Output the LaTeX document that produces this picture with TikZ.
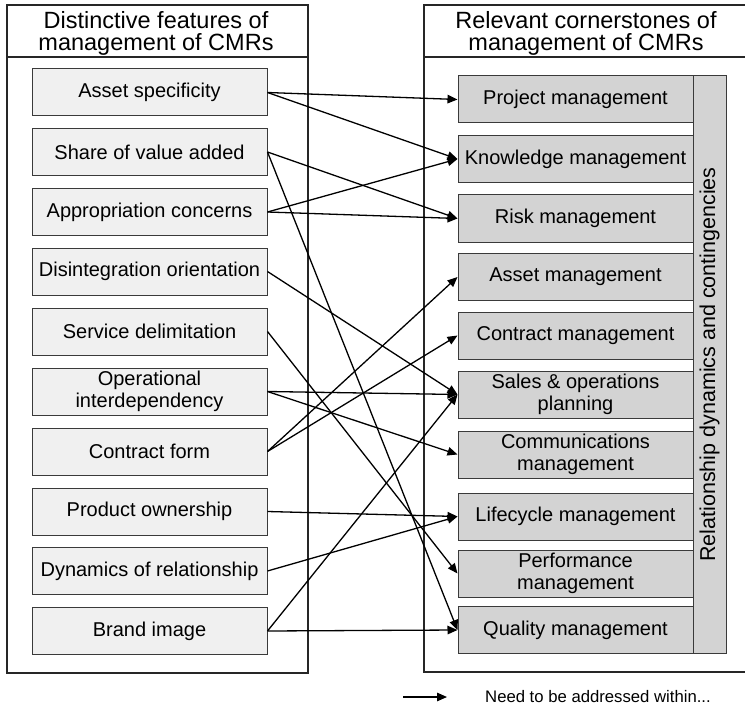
\documentclass[tikz,border=0pt]{standalone}
\usepackage{fontspec}
\setmainfont{Liberation Sans}
\usetikzlibrary{arrows.meta}
\definecolor{lfill}{HTML}{F0F0F0}
\definecolor{rfill}{HTML}{D3D3D3}
\definecolor{bord}{HTML}{3A3A3A}
\tikzset{
  feat/.style={draw=bord, line width=1pt, fill=lfill, minimum width=235pt, minimum height=47pt, inner sep=0pt, align=center, font=\fontsize{20}{22}\selectfont},
  corner/.style={draw=bord, line width=1pt, fill=rfill, minimum width=235pt, minimum height=47pt, inner sep=0pt, align=center, font=\fontsize{20}{22}\selectfont},
  frame/.style={draw=black!85, line width=1.1pt},
  hdr/.style={align=center, inner sep=0pt, font=\fontsize{23.5}{22.5}\selectfont},
  conn/.style={draw=black, line width=1.3pt, -{Triangle[length=10pt,width=8.5pt]}}
}
\begin{document}
\begin{tikzpicture}[x=1pt,y=-1pt]
\useasboundingbox (0,0) rectangle (745,706);
% frames
\draw[frame] (7,5) rectangle (308,673);
\draw[frame] (7,57) -- (308,57);
\draw[frame] (424,5) rectangle (750,672);
\draw[frame] (424,57) -- (750,57);
\node[hdr] (lh) at (156,33.5) {Distinctive features of\\management of CMRs};
\node[hdr] (rh) at (586,33.5) {Relevant cornerstones of\\management of CMRs};
% left boxes
\node[feat] (asp) at (149.5,92.5) {Asset specificity};
\node[feat] (sva) at (149.5,152) {Share of value added};
\node[feat] (apc) at (149.5,212) {Appropriation concerns};
\node[feat] (dio) at (149.5,271.5) {Disintegration orientation};
\node[feat] (sdl) at (149.5,331.5) {Service delimitation};
\node[feat] (opi) at (149.5,391.5) {Operational\\interdependency};
\node[feat] (cfm) at (149.5,451.5) {Contract form};
\node[feat] (pow) at (149.5,511.5) {Product ownership};
\node[feat] (dyr) at (149.5,571) {Dynamics of relationship};
\node[feat] (bri) at (149.5,631) {Brand image};
% right boxes
\node[corner] (proj) at (575.5,99.5) {Project management};
\node[corner] (know) at (575.5,159) {Knowledge management};
\node[corner] (risk) at (575.5,218.5) {Risk management};
\node[corner] (astm) at (575.5,277) {Asset management};
\node[corner] (cntm) at (575.5,335.5) {Contract management};
\node[corner] (sop) at (575.5,394.5) {Sales \& operations\\planning};
\node[corner] (comm) at (575.5,454.5) {Communications\\management};
\node[corner] (life) at (575.5,516.5) {Lifecycle management};
\node[corner] (perf) at (575.5,573.5) {Performance\\management};
\node[corner] (qual) at (575.5,630) {Quality management};
% vertical bar
\node[draw=bord, line width=1pt, fill=rfill, minimum width=33pt, minimum height=577pt, inner sep=0pt] (bar) at (709.5,364.5) {};
\node[rotate=90, inner sep=0pt, font=\fontsize{21.5}{21.5}\selectfont] (bart) at (bar.center) {Relationship dynamics and contingencies};
% connectors
\draw[conn] (asp.east) -- (proj.west);
\draw[conn] (asp.east) -- (know.west);
\draw[conn] (sva.east) -- (risk.west);
\draw[conn] (sva.east) -- (qual.west);
\draw[conn] (apc.east) -- (know.west);
\draw[conn] (apc.east) -- (risk.west);
\draw[conn] (dio.east) -- (sop.west);
\draw[conn] (sdl.east) -- (perf.west);
\draw[conn] (opi.east) -- (sop.west);
\draw[conn] (opi.east) -- (comm.west);
\draw[conn] (cfm.east) -- (astm.west);
\draw[conn] (cfm.east) -- (cntm.west);
\draw[conn] (pow.east) -- (life.west);
\draw[conn] (dyr.east) -- (life.west);
\draw[conn] (bri.east) -- (sop.west);
\draw[conn] (bri.east) -- (qual.west);
% legend
\coordinate (la) at (403,697);
\coordinate (lb) at (447,697);
\draw[conn] (la) -- (lb);
\node[anchor=west, inner sep=0pt, font=\fontsize{16.7}{18}\selectfont] (leg) at (485,697) {Need to be addressed within...};
\end{tikzpicture}
\end{document}
